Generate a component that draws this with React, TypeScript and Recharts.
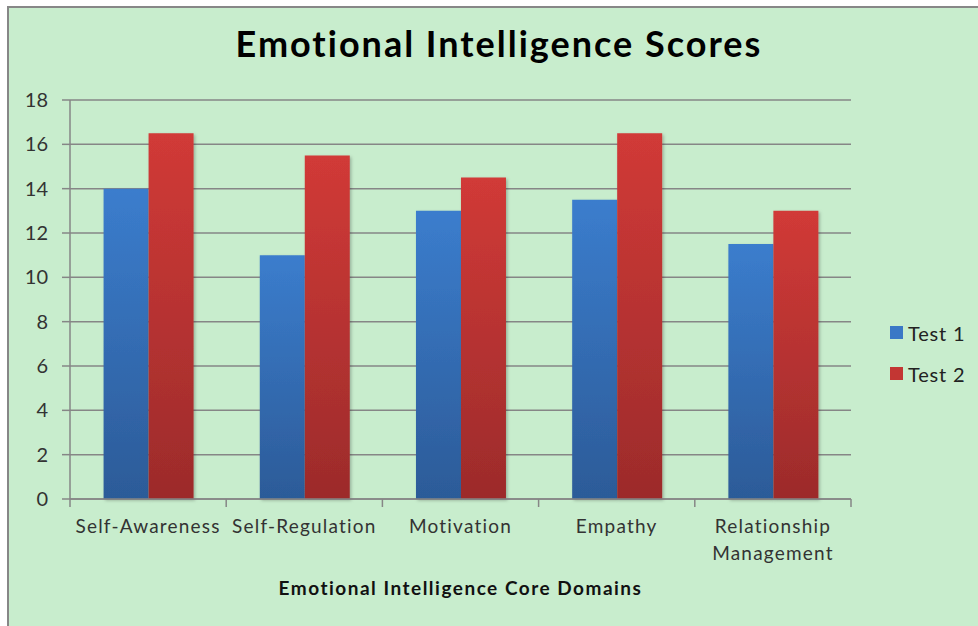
import React from "react";
import { BarChart, Bar, XAxis, YAxis, CartesianGrid, Legend } from "recharts";

const domains = ["Self-Awareness", "Self-Regulation", "Motivation", "Empathy", "Relationship Management"];
const test1 = [14, 11, 13, 13.5, 11.5];
const test2 = [16.5, 15.5, 14.5, 16.5, 13];
const yTicks = [0, 2, 4, 6, 8, 10, 12, 14, 16, 18];

const data = domains.map((d, i) => ({ domain: d, test1: test1[i], test2: test2[i] }));

const FONT = "Lato, 'Open Sans', sans-serif";
const AXIS = "#868686";

function DomainTick(props: any) {
  const { x, y, payload, index, visibleTicksCount } = props;
  const half = payload.offset || 0;
  const words: string[] = payload.value.length > 16 ? payload.value.split(" ") : [payload.value];
  return (
    <g>
      <line x1={x - half} y1={y - 8} x2={x - half} y2={y} stroke={AXIS} strokeWidth={1.5} />
      {index === visibleTicksCount - 1 && (
        <line x1={x + half} y1={y - 8} x2={x + half} y2={y} stroke={AXIS} strokeWidth={1.5} />
      )}
      <text x={x} y={y + 26} textAnchor="middle" fontFamily={FONT} fontSize={19} fill="#333" letterSpacing={1.2}>
        {words.map((w, i) => (
          <tspan key={w} x={x} dy={i === 0 ? 0 : 27}>{w}</tspan>
        ))}
      </text>
    </g>
  );
}

function LegendBox() {
  const items = [
    { label: "Test 1", color: "#3A78C6" },
    { label: "Test 2", color: "#C33633" },
  ];
  return (
    <div style={{ fontFamily: FONT, fontSize: 20, color: "#222", letterSpacing: 0.8 }}>
      {items.map((it) => (
        <div key={it.label} style={{ display: "flex", alignItems: "center", height: 41 }}>
          <span style={{ width: 13, height: 13, background: it.color, marginRight: 5, display: "inline-block" }} />
          <span>{it.label}</span>
        </div>
      ))}
    </div>
  );
}

export default function App() {
  return (
    <div style={{ position: "fixed", left: 0, top: 0, width: 978, height: 626, background: "#fff", overflow: "hidden" }}>
      <div
        style={{
          position: "absolute", left: 7, top: 6, right: 0, bottom: 0,
          borderLeft: "2.5px solid #878787", borderTop: "2.5px solid #878787", background: "#C8EDCD",
        }}
      />
      <div
        style={{
          position: "absolute", left: 0, top: 21, width: 998, textAlign: "center",
          fontFamily: FONT, fontWeight: 700, fontSize: 36, letterSpacing: 2, color: "#000",
        }}
      >
        Emotional Intelligence Scores
      </div>
      <div
        style={{
          position: "absolute", left: 70, top: 576, width: 781, textAlign: "center",
          fontFamily: FONT, fontWeight: 700, fontSize: 19, letterSpacing: 1.5, color: "#111",
        }}
      >
        Emotional Intelligence Core Domains
      </div>
      <div style={{ position: "absolute", left: 0, top: 0 }}>
        <BarChart
          width={978}
          height={626}
          data={data}
          margin={{ top: 100, right: 127, bottom: 47, left: 0 }}
          barCategoryGap="21.5%"
          barGap={0}
        >
          <defs>
            <linearGradient id="g1" x1="0" y1="0" x2="0" y2="1">
              <stop offset="0%" stopColor="#3B7DCD" />
              <stop offset="100%" stopColor="#2C5B98" />
            </linearGradient>
            <linearGradient id="g2" x1="0" y1="0" x2="0" y2="1">
              <stop offset="0%" stopColor="#D13A37" />
              <stop offset="100%" stopColor="#9C2B2B" />
            </linearGradient>
            <filter id="sh" x="-20%" y="-5%" width="140%" height="110%">
              <feDropShadow dx="1.5" dy="1.5" stdDeviation="1.5" floodColor="#000" floodOpacity="0.25" />
            </filter>
          </defs>
          <CartesianGrid vertical={false} stroke={AXIS} strokeWidth={1.5} />
          <XAxis
            dataKey="domain"
            height={80}
            axisLine={{ stroke: AXIS, strokeWidth: 1.5 }}
            tickLine={false}
            tick={<DomainTick />}
            interval={0}
          />
          <YAxis
            width={70}
            domain={[0, 18]}
            ticks={yTicks}
            axisLine={{ stroke: AXIS, strokeWidth: 1.5 }}
            tickLine={{ stroke: AXIS, strokeWidth: 1.5 }}
            tickSize={8}
            tickMargin={14}
            tick={{ fontFamily: FONT, fontSize: 20, fill: "#333" }}
          />
          <Legend
            layout="vertical"
            align="center"
            verticalAlign="middle"
            content={<LegendBox />}
            wrapperStyle={{ left: 890, top: 312, width: 90 }}
          />
          <Bar dataKey="test1" name="Test 1" fill="url(#g1)" filter="url(#sh)" isAnimationActive={false} />
          <Bar dataKey="test2" name="Test 2" fill="url(#g2)" filter="url(#sh)" isAnimationActive={false} />
        </BarChart>
      </div>
    </div>
  );
}
